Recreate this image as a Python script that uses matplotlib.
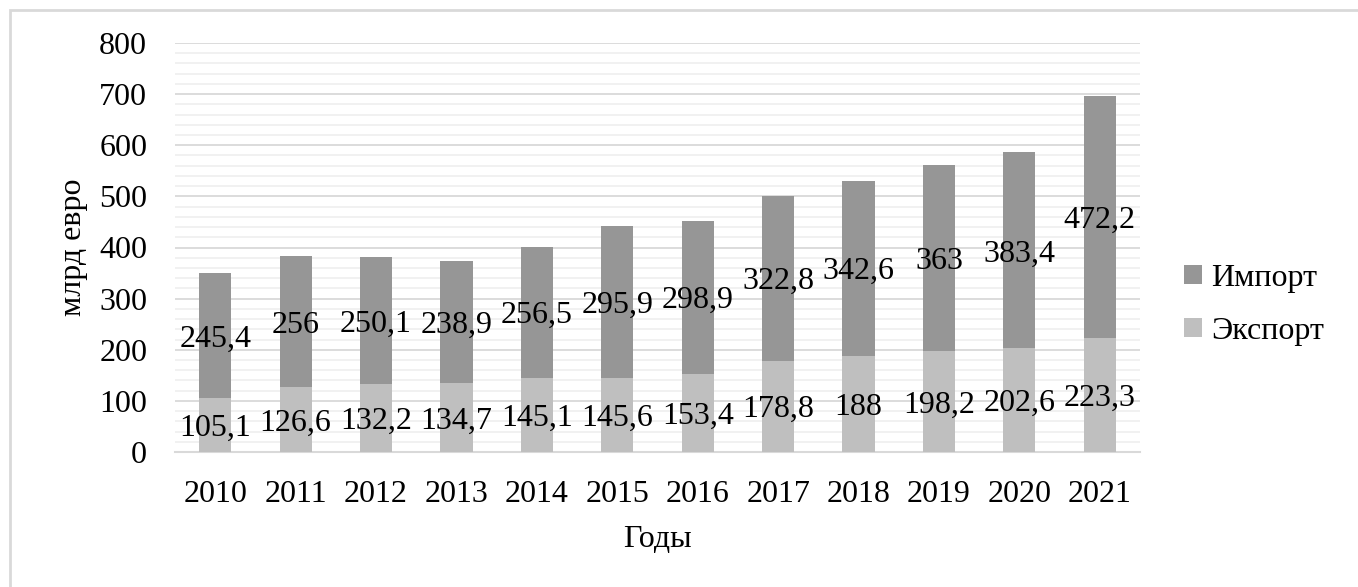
import matplotlib
matplotlib.use("Agg")
import matplotlib.pyplot as plt
from matplotlib.patches import Rectangle
from matplotlib.ticker import MultipleLocator
import numpy as np

years = ["2010", "2011", "2012", "2013", "2014", "2015", "2016", "2017", "2018", "2019", "2020", "2021"]
export_vals = [105.1, 126.6, 132.2, 134.7, 145.1, 145.6, 153.4, 178.8, 188, 198.2, 202.6, 223.3]
import_vals = [245.4, 256, 250.1, 238.9, 256.5, 295.9, 298.9, 322.8, 342.6, 363, 383.4, 472.2]
series_names = ["Экспорт", "Импорт"]
y_label = "млрд евро"
x_label = "Годы"

plt.rcParams['font.family'] = ['Liberation Serif', 'DejaVu Serif']
FS = 23

fig = plt.figure(figsize=(13.58, 5.87), dpi=100)
fig.patches.append(Rectangle((10/1358, -0.1), 1.2, (587-10)/587 + 0.1, transform=fig.transFigure,
                             fill=False, edgecolor='#d9d9d9', linewidth=2))
ax = fig.add_axes([175/1358, 1-452/587, (1140-175)/1358, (452-43)/587])

x = np.arange(len(years))
w = 0.40
c_exp = '#bfbfbf'
c_imp = '#969696'
b1 = ax.bar(x, export_vals, w, color=c_exp, label=series_names[0], zorder=3)
b2 = ax.bar(x, import_vals, w, bottom=export_vals, color=c_imp, label=series_names[1], zorder=3)

def fmt(v):
    return ('%g' % v).replace('.', ',')

for xi, e, i in zip(x, export_vals, import_vals):
    ax.text(xi, e/2, fmt(e), ha='center', va='center_baseline', fontsize=FS, color='#000000', zorder=4)
    ax.text(xi, e + i/2, fmt(i), ha='center', va='center_baseline', fontsize=FS, color='#000000', zorder=4)

ax.set_ylim(0, 800)
ax.set_xlim(-0.5, len(years)-0.5)
ax.yaxis.set_major_locator(MultipleLocator(100))
ax.yaxis.set_minor_locator(MultipleLocator(20))
ax.grid(which='major', axis='y', color='#d9d9d9', linewidth=1.3, zorder=0)
ax.grid(which='minor', axis='y', color='#f0f0f0', linewidth=1.3, zorder=0)
ax.set_axisbelow(True)
for s in ['top', 'right', 'left']:
    ax.spines[s].set_visible(False)
ax.spines['bottom'].set_color('#d9d9d9')
ax.spines['bottom'].set_linewidth(1.5)
ax.tick_params(axis='both', which='both', length=0, labelsize=FS)
ax.tick_params(axis='y', pad=20)
ax.tick_params(axis='x', pad=20)
ax.set_xticks(x)
ax.set_xticklabels(years)
ax.set_ylabel(y_label, fontsize=FS, labelpad=8)
ax.set_xlabel(x_label, fontsize=FS, labelpad=12)

handles = [b2, b1]
leg = ax.legend(handles, [series_names[1], series_names[0]], loc='center left',
                bbox_to_anchor=(1.016, 0.36), frameon=False, fontsize=FS,
                handlelength=0.55, handleheight=0.55, handletextpad=0.3, labelspacing=0.75)

fig.savefig("out.png", dpi=100)
